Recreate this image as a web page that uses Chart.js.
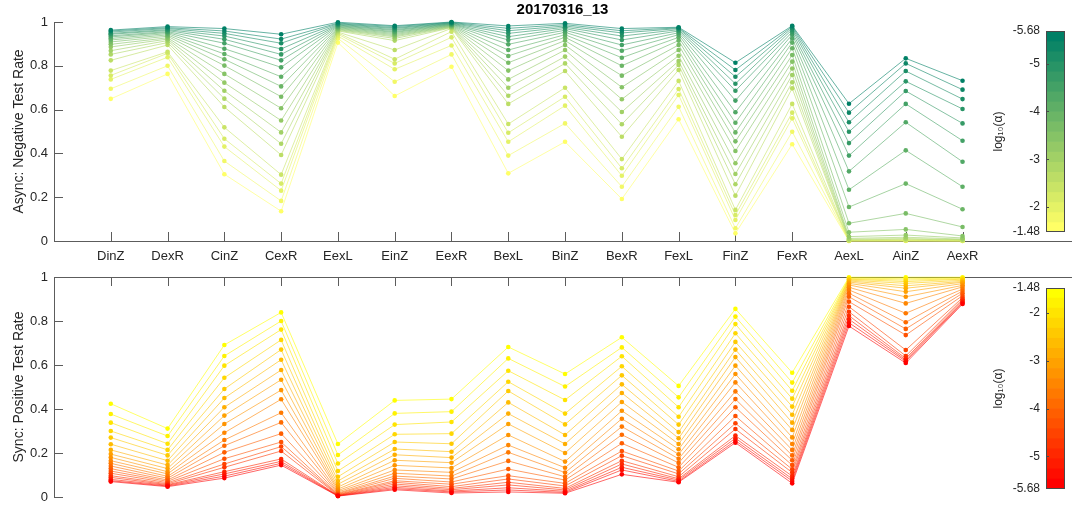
<!DOCTYPE html>
<html>
<head>
<meta charset="utf-8">
<script src="https://cdn.jsdelivr.net/npm/chart.js@4.4.1/dist/chart.umd.min.js"></script>
<style>
  html, body { margin: 0; padding: 0; background: #fff; overflow: hidden; }
  #fig { position: relative; width: 1075px; height: 506px; }
  canvas { position: absolute; }
</style>
</head>
<body>
<div id="fig">
  <canvas id="asyncChart" width="1075" height="270" style="left:0;top:0"></canvas>
  <canvas id="syncChart" width="1075" height="236" style="left:0;top:270px"></canvas>
  <canvas id="asyncBar" width="95" height="270" style="left:980px;top:0"></canvas>
  <canvas id="syncBar" width="95" height="236" style="left:980px;top:270px"></canvas>
</div>
<script>
// Channel / window categories along the x axis
const categories = ['DinZ', 'DexR', 'CinZ', 'CexR', 'EexL', 'EinZ', 'EexR', 'BexL',
                    'BinZ', 'BexR', 'FexL', 'FinZ', 'FexR', 'AexL', 'AinZ', 'AexR'];

// Significance levels, log10(alpha), one line per level
const logAlpha = [-5.68, -5.46, -5.24, -5.02, -4.80, -4.57, -4.35, -4.13, -3.91, -3.69,
                  -3.47, -3.25, -3.03, -2.81, -2.59, -2.36, -2.14, -1.92, -1.70, -1.48];

const yTickValues = [0, 0.2, 0.4, 0.6, 0.8, 1];
const yTickLabels = ['0', '0.2', '0.4', '0.6', '0.8', '1'];
const cbTickValues = [-5.68, -5, -4, -3, -2, -1.48];
const cbTickLabels = ['-5.68', '-5', '-4', '-3', '-2', '-1.48'];

// Async negative test rate: one row per category, entries ordered as logAlpha
const asyncNegRate = [
  [0.963, 0.959, 0.954, 0.948, 0.944, 0.937, 0.932, 0.925, 0.918, 0.909, 0.898, 0.886, 0.869, 0.852, 0.825, 0.778, 0.756, 0.738, 0.695, 0.649], // DinZ
  [0.979, 0.974, 0.970, 0.965, 0.961, 0.956, 0.952, 0.947, 0.941, 0.935, 0.928, 0.922, 0.915, 0.906, 0.895, 0.864, 0.857, 0.839, 0.800, 0.763], // DexR
  [0.970, 0.959, 0.948, 0.936, 0.921, 0.903, 0.878, 0.854, 0.830, 0.801, 0.763, 0.723, 0.686, 0.650, 0.612, 0.519, 0.467, 0.431, 0.365, 0.305], // CinZ
  [0.944, 0.922, 0.903, 0.877, 0.852, 0.825, 0.793, 0.750, 0.706, 0.659, 0.606, 0.550, 0.496, 0.444, 0.393, 0.303, 0.262, 0.230, 0.183, 0.136], // CexR
  [0.999, 0.995, 0.992, 0.989, 0.986, 0.983, 0.980, 0.977, 0.974, 0.971, 0.968, 0.965, 0.962, 0.959, 0.954, 0.950, 0.944, 0.936, 0.925, 0.906], // EexL
  [0.983, 0.979, 0.974, 0.970, 0.965, 0.961, 0.956, 0.952, 0.947, 0.942, 0.937, 0.932, 0.925, 0.915, 0.872, 0.830, 0.811, 0.784, 0.727, 0.662], // EinZ
  [1.000, 0.998, 0.996, 0.994, 0.992, 0.990, 0.988, 0.986, 0.984, 0.982, 0.980, 0.978, 0.976, 0.974, 0.971, 0.956, 0.930, 0.893, 0.852, 0.796], // EexR
  [0.982, 0.971, 0.960, 0.948, 0.933, 0.918, 0.898, 0.872, 0.845, 0.814, 0.778, 0.738, 0.700, 0.663, 0.626, 0.534, 0.494, 0.453, 0.390, 0.309], // BexL
  [0.994, 0.988, 0.982, 0.976, 0.970, 0.962, 0.953, 0.942, 0.930, 0.915, 0.895, 0.872, 0.842, 0.811, 0.776, 0.700, 0.659, 0.618, 0.537, 0.453], // BinZ
  [0.970, 0.960, 0.950, 0.936, 0.918, 0.895, 0.869, 0.837, 0.800, 0.755, 0.702, 0.647, 0.589, 0.533, 0.476, 0.374, 0.332, 0.298, 0.248, 0.192], // BexR
  [0.976, 0.973, 0.970, 0.965, 0.959, 0.951, 0.942, 0.930, 0.915, 0.895, 0.872, 0.846, 0.822, 0.804, 0.781, 0.731, 0.694, 0.667, 0.613, 0.556], // FexL
  [0.814, 0.781, 0.750, 0.718, 0.686, 0.641, 0.588, 0.540, 0.496, 0.455, 0.411, 0.355, 0.306, 0.259, 0.207, 0.142, 0.119, 0.096, 0.058, 0.035], // FinZ
  [0.983, 0.979, 0.973, 0.965, 0.954, 0.942, 0.925, 0.906, 0.880, 0.849, 0.819, 0.788, 0.758, 0.725, 0.697, 0.626, 0.586, 0.560, 0.499, 0.442], // FexR
  [0.627, 0.586, 0.542, 0.499, 0.447, 0.390, 0.318, 0.234, 0.155, 0.081, 0.040, 0.020, 0.012, 0.008, 0.005, 0.003, 0.002, 0.001, 0.000, 0.000], // AexL
  [0.834, 0.811, 0.776, 0.729, 0.685, 0.626, 0.542, 0.414, 0.262, 0.126, 0.053, 0.027, 0.017, 0.011, 0.008, 0.005, 0.003, 0.001, 0.001, 0.000], // AinZ
  [0.732, 0.691, 0.648, 0.603, 0.537, 0.458, 0.362, 0.248, 0.145, 0.064, 0.023, 0.014, 0.009, 0.006, 0.005, 0.003, 0.001, 0.001, 0.000, 0.000]  // AexR
];

// Sync positive test rate: one row per category, entries ordered as logAlpha
const syncPosRate = [
  [0.070, 0.074, 0.080, 0.089, 0.097, 0.108, 0.118, 0.129, 0.141, 0.153, 0.165, 0.180, 0.195, 0.214, 0.240, 0.270, 0.300, 0.338, 0.377, 0.424], // DinZ
  [0.047, 0.050, 0.053, 0.056, 0.060, 0.065, 0.071, 0.077, 0.085, 0.094, 0.105, 0.115, 0.129, 0.145, 0.165, 0.189, 0.214, 0.242, 0.277, 0.311], // DexR
  [0.086, 0.095, 0.105, 0.115, 0.135, 0.150, 0.174, 0.203, 0.233, 0.259, 0.292, 0.332, 0.370, 0.408, 0.450, 0.491, 0.542, 0.597, 0.641, 0.691], // CinZ
  [0.145, 0.153, 0.162, 0.173, 0.209, 0.229, 0.250, 0.288, 0.339, 0.383, 0.444, 0.486, 0.533, 0.577, 0.624, 0.670, 0.714, 0.761, 0.800, 0.839], // CexR
  [0.004, 0.005, 0.006, 0.007, 0.008, 0.010, 0.012, 0.015, 0.018, 0.023, 0.029, 0.036, 0.045, 0.058, 0.073, 0.092, 0.118, 0.152, 0.191, 0.241], // EexL
  [0.033, 0.038, 0.044, 0.051, 0.059, 0.067, 0.074, 0.085, 0.095, 0.108, 0.123, 0.144, 0.167, 0.192, 0.218, 0.250, 0.285, 0.329, 0.380, 0.439], // EinZ
  [0.018, 0.023, 0.027, 0.033, 0.039, 0.047, 0.058, 0.068, 0.082, 0.095, 0.112, 0.132, 0.156, 0.179, 0.206, 0.242, 0.288, 0.341, 0.388, 0.445], // EexR
  [0.023, 0.032, 0.042, 0.055, 0.067, 0.082, 0.097, 0.127, 0.164, 0.203, 0.236, 0.282, 0.332, 0.379, 0.430, 0.482, 0.524, 0.574, 0.630, 0.682], // BexL
  [0.017, 0.021, 0.026, 0.032, 0.039, 0.050, 0.062, 0.077, 0.092, 0.111, 0.133, 0.161, 0.200, 0.241, 0.282, 0.330, 0.379, 0.441, 0.502, 0.559], // BinZ
  [0.103, 0.123, 0.135, 0.150, 0.165, 0.188, 0.209, 0.244, 0.283, 0.320, 0.356, 0.392, 0.432, 0.473, 0.512, 0.553, 0.594, 0.640, 0.680, 0.726], // BexR
  [0.067, 0.071, 0.077, 0.083, 0.092, 0.105, 0.118, 0.135, 0.155, 0.174, 0.194, 0.217, 0.241, 0.267, 0.295, 0.329, 0.365, 0.408, 0.453, 0.505], // FexL
  [0.247, 0.256, 0.267, 0.279, 0.309, 0.335, 0.368, 0.408, 0.445, 0.480, 0.521, 0.559, 0.597, 0.636, 0.670, 0.705, 0.744, 0.786, 0.820, 0.855], // FinZ
  [0.062, 0.073, 0.083, 0.095, 0.111, 0.126, 0.145, 0.167, 0.189, 0.214, 0.241, 0.271, 0.305, 0.338, 0.374, 0.411, 0.447, 0.483, 0.520, 0.565], // FexR
  [0.777, 0.792, 0.808, 0.824, 0.842, 0.865, 0.888, 0.910, 0.926, 0.941, 0.953, 0.964, 0.971, 0.977, 0.982, 0.986, 0.990, 0.992, 0.995, 0.999], // AexL
  [0.609, 0.617, 0.623, 0.630, 0.641, 0.668, 0.736, 0.764, 0.794, 0.835, 0.880, 0.910, 0.933, 0.949, 0.960, 0.971, 0.979, 0.986, 0.992, 0.999], // AinZ
  [0.877, 0.882, 0.886, 0.892, 0.899, 0.906, 0.915, 0.926, 0.936, 0.945, 0.955, 0.962, 0.970, 0.976, 0.980, 0.985, 0.990, 0.992, 0.995, 0.999]  // AexR
];

Chart.defaults.font.family = "'Liberation Sans', Arial, Helvetica, 'DejaVu Sans', sans-serif";
Chart.defaults.color = '#262626';

const axisColor = '#5c5c5c';
const cbMin = -5.68, cbMax = -1.48;
const cbLevels = 20;
const fracOf = la => (la - cbMin) / (cbMax - cbMin);
// summer: dark green -> yellow, autumn: red -> yellow
const summer = (f, a = 1) => `rgba(${Math.round(255 * f)},${Math.round(255 * (0.5 + 0.5 * f))},102,${a})`;
const autumn = (f, a = 1) => `rgba(255,${Math.round(255 * f)},0,${a})`;

// Keep the plot box exactly where the scale sizes put it
const noEdgePadding = s => { s.paddingTop = 0; s.paddingBottom = 0; s.paddingLeft = 0; s.paddingRight = 0; };

// Tick marks drawn inward from the axis lines, plus optional outline of the plot box
const inwardTicks = {
  id: 'inwardTicks',
  beforeDatasetsDraw(chart, args, opts) {
    if (!opts.x && !opts.y) return;
    const { ctx, chartArea: a } = chart;
    const L = opts.length || 9;
    ctx.save();
    ctx.strokeStyle = opts.color || axisColor;
    ctx.lineWidth = 1;
    ctx.beginPath();
    const xs = chart.scales.x, ys = chart.scales.y;
    if (opts.x) {
      xs.ticks.forEach(t => {
        const px = Math.round(xs.getPixelForValue(t.value)) + 0.5;
        if (xs.position === 'top') { ctx.moveTo(px, a.top); ctx.lineTo(px, a.top + L); }
        else { ctx.moveTo(px, a.bottom); ctx.lineTo(px, a.bottom - L); }
      });
    }
    if (opts.y) {
      ys.ticks.forEach(t => {
        const py = Math.round(ys.getPixelForValue(t.value)) + 0.5;
        ctx.moveTo(a.left, py); ctx.lineTo(a.left + L, py);
      });
    }
    ctx.stroke();
    ctx.restore();
  },
  afterDatasetsDraw(chart, args, opts) {
    if (!opts.outline) return;
    const { ctx, chartArea: a } = chart;
    ctx.save();
    ctx.strokeStyle = opts.outline;
    ctx.lineWidth = 1;
    ctx.strokeRect(Math.round(a.left) + 0.5, Math.round(a.top) + 0.5,
                   Math.round(a.right - a.left) - 1, Math.round(a.bottom - a.top) - 1);
    // inward ticks on the colorbar drawn over the colour bands
    if (opts.barTicks) {
      const ys = chart.scales.y;
      ctx.beginPath();
      ys.ticks.forEach(t => {
        if (t.value === ys.min || t.value === ys.max) return;
        const py = Math.round(ys.getPixelForValue(t.value)) + 0.5;
        ctx.moveTo(a.left, py); ctx.lineTo(a.left + opts.barTicks, py);
      });
      ctx.stroke();
    }
    ctx.restore();
  }
};

function panelChart(id, rates, cmap, cfg) {
  const datasets = logAlpha.map((la, s) => {
    const f = fracOf(la);
    return {
      label: 'log10(\u03b1) = ' + la,
      data: categories.map((c, i) => ({ x: i + 1, y: rates[i][s] })),
      borderColor: cmap(f, 0.6),
      backgroundColor: cmap(f),
      pointBackgroundColor: cmap(f),
      pointBorderWidth: 0,
      pointRadius: 2.3,
      borderWidth: 1,
      tension: 0,
      clip: false
    };
  });
  return new Chart(document.getElementById(id), {
    type: 'line',
    data: { datasets },
    options: {
      responsive: false,
      animation: false,
      devicePixelRatio: 1,
      events: [],
      layout: { padding: cfg.padding },
      plugins: {
        legend: { display: false },
        tooltip: { enabled: false },
        title: cfg.title || { display: false },
        inwardTicks: { x: true, y: true, length: 9 }
      },
      scales: {
        x: {
          type: 'linear',
          position: cfg.xPos,
          min: 0,
          max: 17.91,
          grid: { display: false, drawTicks: false },
          border: { display: true, color: axisColor },
          ticks: {
            display: cfg.xLabels,
            autoSkip: false,
            maxRotation: 0,
            padding: 8,
            font: { size: 13 },
            callback: v => categories[Math.round(v) - 1] ?? ''
          },
          afterBuildTicks: s => { s.ticks = categories.map((c, i) => ({ value: i + 1 })); },
          afterFit: s => { s.height = cfg.xHeight; noEdgePadding(s); }
        },
        y: {
          min: 0,
          max: 1,
          grid: { display: false, drawTicks: false },
          border: { display: true, color: axisColor },
          ticks: {
            padding: 6,
            font: { size: 13 },
            callback: v => yTickLabels[yTickValues.indexOf(v)]
          },
          afterBuildTicks: s => { s.ticks = yTickValues.map(v => ({ value: v })); },
          afterFit: s => { s.width = 54; noEdgePadding(s); },
          title: { display: true, text: cfg.yTitle, font: { size: 14 }, padding: { top: 11, bottom: 0 } }
        }
      }
    },
    plugins: [inwardTicks]
  });
}

function colorbarChart(id, cmap, cfg) {
  const w = (cbMax - cbMin) / cbLevels;
  const datasets = [];
  for (let k = 0; k < cbLevels; k++) {
    datasets.push({
      data: [[cbMin + k * w, cbMin + (k + 1) * w]],
      backgroundColor: cmap(k / (cbLevels - 1)),
      borderWidth: 0,
      barPercentage: 1,
      categoryPercentage: 1,
      grouped: false
    });
  }
  return new Chart(document.getElementById(id), {
    type: 'bar',
    data: { labels: [''], datasets },
    options: {
      responsive: false,
      animation: false,
      devicePixelRatio: 1,
      events: [],
      layout: { padding: cfg.padding },
      plugins: {
        legend: { display: false },
        tooltip: { enabled: false },
        inwardTicks: { outline: '#4a4a4a', barTicks: 3 }
      },
      scales: {
        x: { display: false },
        y: {
          min: cbMin,
          max: cbMax,
          reverse: cfg.reverse,
          grid: { display: false, drawTicks: false },
          border: { display: false },
          ticks: {
            padding: 6,
            font: { size: 12 },
            callback: v => cbTickLabels[cbTickValues.indexOf(v)]
          },
          afterBuildTicks: s => { s.ticks = cbTickValues.map(v => ({ value: v })); },
          afterFit: s => { s.width = 66; noEdgePadding(s); },
          title: { display: true, text: 'log\u2081\u2080(\u03b1)', font: { size: 12 }, padding: { top: 11, bottom: 0 } }
        }
      }
    },
    plugins: [inwardTicks]
  });
}

panelChart('asyncChart', asyncNegRate, summer, {
  xPos: 'bottom',
  xLabels: true,
  xHeight: 29,
  padding: { top: 0, right: 0, bottom: 0, left: 0 },
  yTitle: 'Async: Negative Test Rate',
  title: {
    display: true,
    text: '20170316_13',
    fullSize: false,
    color: '#000',
    font: { size: 15, weight: 'bold' },
    padding: { top: 1, bottom: 3 }
  }
});

panelChart('syncChart', syncPosRate, autumn, {
  xPos: 'top',
  xLabels: false,
  xHeight: 7,
  padding: { top: 0, right: 0, bottom: 9, left: 0 },
  yTitle: 'Sync: Positive Test Rate'
});

colorbarChart('asyncBar', summer, { reverse: true, padding: { top: 31, bottom: 38, right: 10, left: 0 } });
colorbarChart('syncBar', autumn, { reverse: false, padding: { top: 18, bottom: 17, right: 10, left: 0 } });
</script>
</body>
</html>
